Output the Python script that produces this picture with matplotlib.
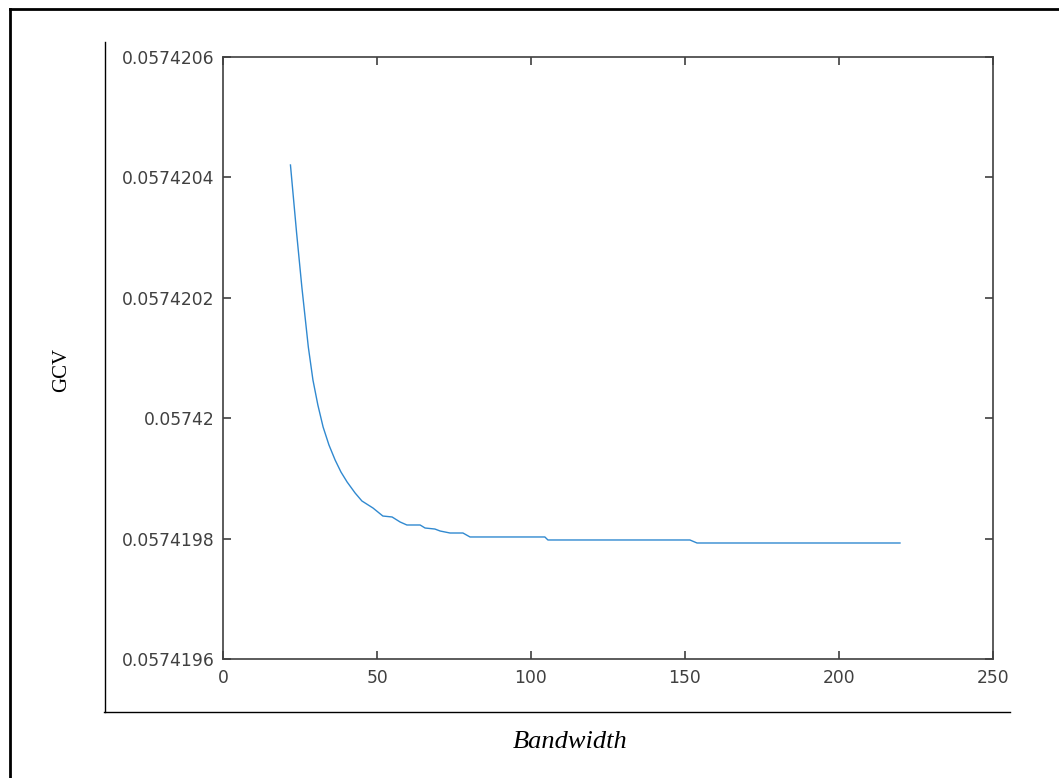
import numpy as np
import matplotlib
matplotlib.use("Agg")
import matplotlib.pyplot as plt
from matplotlib.lines import Line2D

# values
bandwidth = [21.9, 23.9, 25.6, 27.7, 29.2, 30.8, 32.5, 34.4, 36.4, 38.3,
             40.3, 42.9, 45.1, 48.7, 51.9, 54.9, 57.5, 59.7, 64.0, 65.6,
             68.8, 70.5, 73.7, 77.9, 80.2, 104.5, 105.5, 151.6, 153.9, 219.8]
gcv = [0.0574204206, 0.0574203076, 0.0574202179, 0.0574201183, 0.0574200635,
       0.0574200219, 0.0574199854, 0.0574199555, 0.0574199306, 0.0574199106,
       0.0574198940, 0.0574198757, 0.0574198625, 0.0574198508, 0.0574198375,
       0.0574198359, 0.0574198276, 0.0574198226, 0.0574198226, 0.0574198176,
       0.0574198159, 0.0574198126, 0.0574198093, 0.0574198093, 0.0574198027,
       0.0574198027, 0.0574197977, 0.0574197977, 0.0574197927, 0.0574197927]

yticks = [0.0574196, 0.0574198, 0.0574200, 0.0574202, 0.0574204, 0.0574206]
ytick_labels = ["0.0574196", "0.0574198", "0.05742", "0.0574202",
                "0.0574204", "0.0574206"]
xticks = [0, 50, 100, 150, 200, 250]

W, H = 1059, 778
fig = plt.figure(figsize=(W / 100, H / 100), dpi=100)
ax = fig.add_axes([223 / W, 1 - 659 / H, (993 - 223) / W, (659 - 57) / H])

ax.plot(bandwidth, gcv, color="#3089d0", lw=1.0)

ax.set_xlim(0, 250)
ax.set_ylim(yticks[0], yticks[-1])
ax.set_xticks(xticks)
ax.set_xticklabels([str(t) for t in xticks])
ax.set_yticks(yticks)
ax.set_yticklabels(ytick_labels)

gray = "#404040"
for sp in ax.spines.values():
    sp.set_color(gray)
    sp.set_linewidth(1.2)
ax.tick_params(direction="in", length=6, width=1.2, color=gray,
               top=True, right=True, labelsize=12.3, labelcolor=gray)
ax.tick_params(axis="x", pad=7)
ax.tick_params(axis="y", pad=6)

# outer frame and the extra lines around the plot
def fig_line(x0, y0, x1, y1, lw):
    fig.add_artist(Line2D([x0 / W, x1 / W], [1 - y0 / H, 1 - y1 / H],
                          color="black", lw=lw, transform=fig.transFigure))

fig_line(10, 9, 10, H + 5, 2.0)
fig_line(10, 9, W + 5, 9, 2.0)
fig_line(104.5, 42, 104.5, 712, 1.0)
fig_line(104, 711.5, 1010, 711.5, 1.0)

fig.text(62 / W, 1 - 370 / H, "GCV", rotation=90, ha="center", va="center",
         family="Liberation Serif", fontsize=15)
fig.text(570 / W, 1 - 742 / H, "Bandwidth", ha="center", va="center",
         family="Liberation Serif", style="italic", fontsize=19)

fig.savefig("out.png", dpi=100)
